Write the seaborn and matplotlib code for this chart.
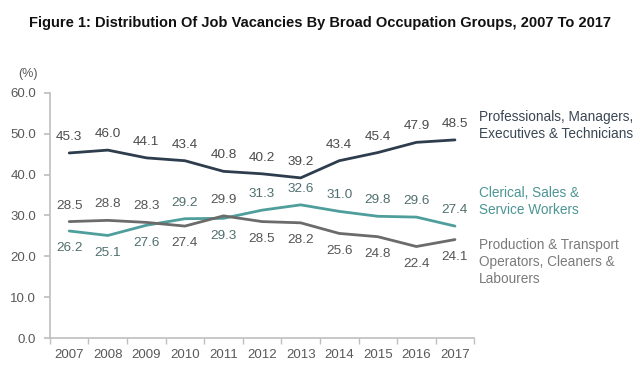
import matplotlib
matplotlib.use("Agg")
import matplotlib.pyplot as plt
import seaborn as sns
import pandas as pd
import numpy as np
from matplotlib import font_manager

years = ["2007", "2008", "2009", "2010", "2011", "2012", "2013", "2014", "2015", "2016", "2017"]
pmet = [45.3, 46.0, 44.1, 43.4, 40.8, 40.2, 39.2, 43.4, 45.4, 47.9, 48.5]
clerical = [26.2, 25.1, 27.6, 29.2, 29.3, 31.3, 32.6, 31.0, 29.8, 29.6, 27.4]
production = [28.5, 28.8, 28.3, 27.4, 29.9, 28.5, 28.2, 25.6, 24.8, 22.4, 24.1]
series_names = ["Professionals, Managers,\nExecutives & Technicians",
                "Clerical, Sales &\nService Workers",
                "Production & Transport\nOperators, Cleaners &\nLabourers"]
# label placement: +1 above, -1 below
pmet_pos = [1] * 11
clerical_pos = [-1, -1, -1, 1, -1, 1, 1, 1, 1, 1, 1]
production_pos = [1, 1, 1, -1, 1, -1, -1, -1, -1, -1, -1]

colors = ["#2e3d4d", "#4e9e9b", "#6b6b6b"]
label_colors = ["#4a4a4a", "#4f6f6e", "#555555"]
name_colors = ["#3a4654", "#4b9593", "#7a7a7a"]

sns.set_theme(style="white")
avail = {f.name for f in font_manager.fontManager.ttflist}
base = "Liberation Sans" if "Liberation Sans" in avail else "DejaVu Sans"
title_font = "Liberation Sans Narrow" if "Liberation Sans Narrow" in avail else base
plt.rcParams["font.family"] = [base, "DejaVu Sans"]

df = pd.DataFrame({
    "x": list(range(11)) * 3,
    "value": pmet + clerical + production,
    "series": [series_names[0]] * 11 + [series_names[1]] * 11 + [series_names[2]] * 11,
})

fig = plt.figure(figsize=(6.4, 3.68), dpi=100)
ax = fig.add_axes([0.078, 0.0815, 0.663, 0.666])
sns.lineplot(data=df, x="x", y="value", hue="series", palette=colors,
             linewidth=2.0, ax=ax, legend=False)

ax.set_xlim(-0.5, 10.5)
ax.set_ylim(0, 60)
ax.set_yticks(np.arange(0, 61, 10))
ax.set_yticklabels([f"{v:.1f}" for v in np.arange(0, 61, 10)], fontsize=9.5, color="#595959")
ax.set_xticks(range(11))
ax.set_xticklabels(years, fontsize=9.5, color="#595959")
ax.set_xticks(np.arange(-0.5, 11, 1), minor=True)
ax.tick_params(axis="x", which="major", length=0, pad=8)
ax.tick_params(axis="x", which="minor", length=4, color="#bfbfbf", direction="out", bottom=True)
ax.tick_params(axis="y", length=4, color="#bfbfbf", direction="out", left=True, pad=6)
ax.set_xlabel("")
ax.set_ylabel("")
for s in ["top", "right"]:
    ax.spines[s].set_visible(False)
for s in ["left", "bottom"]:
    ax.spines[s].set_color("#bfbfbf")
    ax.spines[s].set_linewidth(1.2)

for vals, pos, c in zip([pmet, clerical, production],
                        [pmet_pos, clerical_pos, production_pos], label_colors):
    for i, (v, p) in enumerate(zip(vals, pos)):
        ax.annotate(f"{v:.1f}", (i, v), xytext=(0, 11.5 if p > 0 else -12.5),
                    textcoords="offset points", ha="center", va="center",
                    fontsize=9.7, color=c)

fig.text(0.044, 0.80, "(%)", fontsize=9, color="#595959", ha="center", va="center")

name_y = [0.659, 0.453, 0.288]
for name, y, c in zip(series_names, name_y, name_colors):
    fig.text(0.748, y, name, fontsize=9.8, color=c, ha="left", va="center", linespacing=1.3)

fig.text(0.5, 0.937, "Figure 1: Distribution Of Job Vacancies By Broad Occupation Groups, 2007 To 2017",
         fontsize=10.5, fontweight="bold", ha="center", va="center", color="#111111",
         family=[title_font, "DejaVu Sans"])

fig.savefig("out.png", dpi=100, facecolor="white")
